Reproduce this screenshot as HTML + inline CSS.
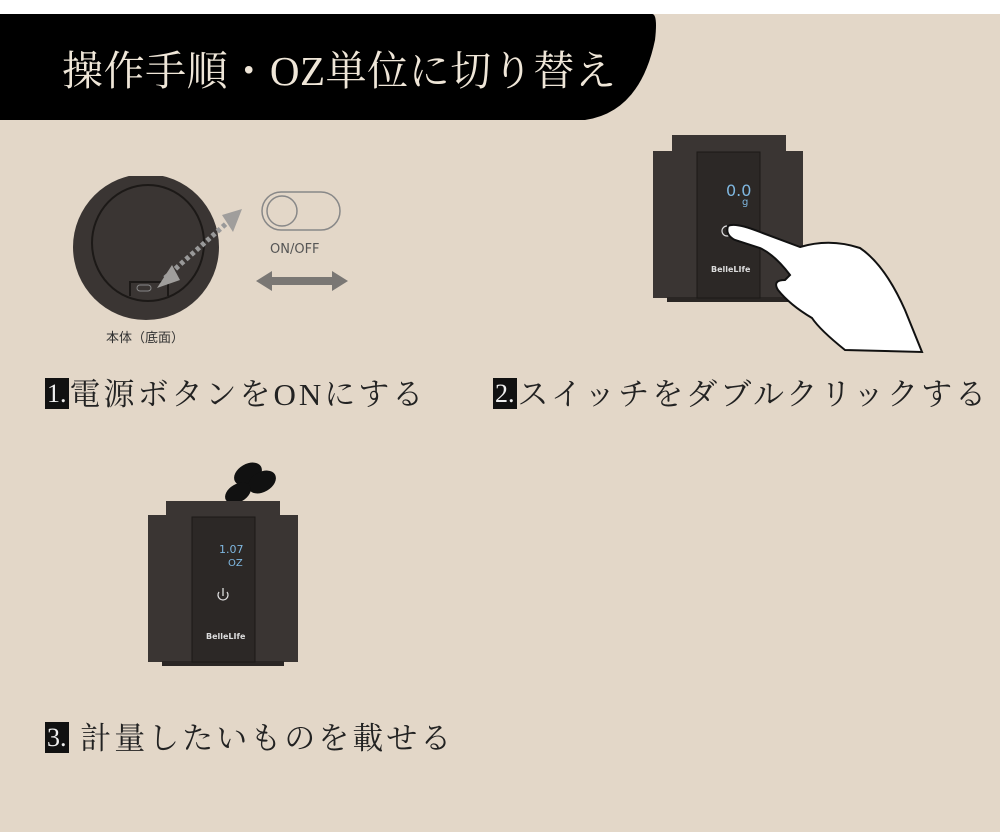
<!DOCTYPE html>
<html><head><meta charset="utf-8"><style>
html,body{margin:0;padding:0}
body{width:1000px;height:832px;background:#e3d7c8;position:relative;overflow:hidden;font-family:"Liberation Serif","Noto Serif CJK SC","Noto Sans CJK JP",serif}
.lbl{position:absolute;font-size:31px;color:#222;white-space:nowrap;letter-spacing:3px}
.num{display:inline-block;background:#111;color:#eee;font-size:26px;padding:0 2px;height:31px;line-height:31px;vertical-align:3px;margin-right:1px;letter-spacing:0}
</style></head><body>
<svg width="1000" height="832" style="position:absolute;left:0;top:0">
<rect x="0" y="0" width="1000" height="14" fill="#fff"/>
<path d="M0 14 H652 Q658 14 655 40 Q640 112 585 120 H0 Z" fill="#000"/>
<text x="62" y="85" font-size="41" fill="#efe6d8" font-family="Liberation Serif,Noto Serif CJK SC,serif" textLength="554">操作手順・OZ単位に切り替え</text>
<!-- bottom view -->
<ellipse cx="146" cy="247" rx="73" ry="73" fill="#3a3533"/>
<rect x="110" y="170" width="74" height="6" fill="#e3d7c8"/>
<ellipse cx="148" cy="243" rx="56" ry="58" fill="none" stroke="#1c1917" stroke-width="2"/>
<path d="M130 296 V282 H168 V296" fill="none" stroke="#1c1917" stroke-width="2"/>
<rect x="137" y="285" width="14" height="6" rx="3" fill="none" stroke="#888" stroke-width="1"/>
<line x1="165" y1="278" x2="228" y2="222" stroke="#999" stroke-width="5" stroke-dasharray="4 3"/>
<polygon points="157,288 172,265 180,280" fill="#a09e9c"/>
<polygon points="242,209 222,215 233,232" fill="#a09e9c"/>
<rect x="262" y="192" width="78" height="38" rx="19" fill="none" stroke="#888" stroke-width="1.5"/>
<circle cx="282" cy="211" r="15" fill="none" stroke="#888" stroke-width="1.5"/>
<text x="270" y="253" font-size="13" fill="#555" font-family="DejaVu Sans,sans-serif">ON/OFF</text>
<polygon points="256,281 272,271 272,277 332,277 332,271 348,281 332,291 332,285 272,285 272,291" fill="#7a7774"/>
<text x="106" y="342" font-size="13" fill="#333" font-family="Noto Sans CJK JP,sans-serif">本体（底面）</text>
<!-- device 2 -->
<rect x="672" y="135" width="114" height="18" fill="#3a3533"/>
<rect x="653" y="151" width="150" height="147" fill="#3a3533"/>
<rect x="667" y="297" width="122" height="5" fill="#2a2624"/>
<rect x="697" y="152" width="63" height="146" fill="#2c2826" stroke="#1c1917"/>
<text x="726" y="196" font-size="16" fill="#7fb7e0" font-family="DejaVu Sans,sans-serif">0.0</text>
<text x="742" y="205" font-size="10" fill="#7fb7e0" font-family="DejaVu Sans,sans-serif">g</text>
<circle cx="727" cy="231" r="5" fill="none" stroke="#ddd" stroke-width="1.2"/>
<text x="711" y="272" font-size="8" fill="#ddd" font-family="DejaVu Sans,sans-serif" font-weight="bold">BelleLIfe</text>
<path d="M728 226 Q735 222 760 232 L800 247 Q830 238 860 248 Q885 265 905 310 L922 352 L845 350 Q820 330 812 318 Q790 305 778 290 Q772 280 785 280 L790 275 Q775 255 760 248 L735 240 Q725 235 728 226 Z" fill="#fff" stroke="#111" stroke-width="2"/>
<!-- device 3 -->
<g fill="#111">
<ellipse cx="248" cy="474" rx="15" ry="10" transform="rotate(-30 248 474)"/>
<ellipse cx="262" cy="482" rx="15" ry="10" transform="rotate(-30 262 482)"/>
<ellipse cx="238" cy="493" rx="14" ry="9" transform="rotate(-30 238 493)"/>
</g>
<rect x="166" y="501" width="114" height="17" fill="#3a3533"/>
<rect x="148" y="515" width="150" height="147" fill="#3a3533"/>
<rect x="162" y="661" width="122" height="5" fill="#2a2624"/>
<rect x="192" y="517" width="63" height="145" fill="#2c2826" stroke="#1c1917"/>
<text x="219" y="553" font-size="11" fill="#7fb7e0" font-family="DejaVu Sans,sans-serif">1.07</text>
<text x="228" y="566" font-size="10" fill="#7fb7e0" font-family="DejaVu Sans,sans-serif">OZ</text>
<path d="M219 592 A5 5 0 1 0 227 592" fill="none" stroke="#ddd" stroke-width="1.3"/>
<line x1="223" y1="588" x2="223" y2="596" stroke="#ddd" stroke-width="1.3"/>
<text x="206" y="639" font-size="8" fill="#ddd" font-family="DejaVu Sans,sans-serif" font-weight="bold">BelleLIfe</text>
</svg>
<div class="lbl" style="left:45px;top:369px"><span class="num">1.</span>電源ボタンをONにする</div>
<div class="lbl" style="left:493px;top:369px"><span class="num">2.</span>スイッチをダブルクリックする</div>
<div class="lbl" style="left:45px;top:713px"><span class="num">3.</span> 計量したいものを載せる</div>
</body></html>
